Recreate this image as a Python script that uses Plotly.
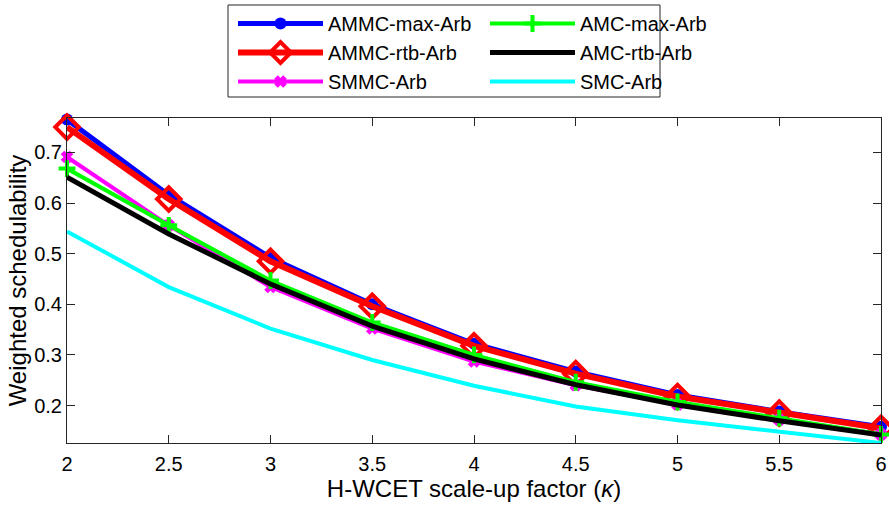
import plotly.graph_objects as go

kappa = [2, 2.5, 3, 3.5, 4, 4.5, 5, 5.5, 6]
ammc_max = [0.765, 0.616, 0.492, 0.400, 0.322, 0.267, 0.221, 0.188, 0.158]
ammc_rtb = [0.750, 0.608, 0.485, 0.396, 0.318, 0.263, 0.218, 0.185, 0.155]
smmc = [0.691, 0.556, 0.434, 0.352, 0.287, 0.240, 0.202, 0.172, 0.143]
amc_max = [0.668, 0.556, 0.447, 0.364, 0.300, 0.246, 0.207, 0.175, 0.143]
amc_rtb = [0.651, 0.539, 0.440, 0.357, 0.292, 0.241, 0.201, 0.170, 0.142]
smc = [0.544, 0.434, 0.352, 0.290, 0.239, 0.198, 0.171, 0.149, 0.126]

FONT = "Liberation Sans, Arial, Helvetica, sans-serif"
W, H = 889, 512
ML, MR, MT, MB = 67, 8, 118, 69
PW, PH = W - ML - MR, H - MT - MB


def px_x(px):
    return (px - ML) / PW


def px_y(py):
    return (H - MB - py) / PH


fig = go.Figure()


def add(name, y, color, width, rank, legend, marker=None):
    kw = dict(x=kappa, y=y, name=name, legendrank=rank, legend=legend,
              cliponaxis=False, line=dict(color=color, width=width))
    if marker:
        kw["mode"] = "lines+markers"
        kw["marker"] = marker
    else:
        kw["mode"] = "lines"
    fig.add_trace(go.Scatter(**kw))


add("AMMC-max-Arb", ammc_max, "#0000FF", 5, 1, "legend",
    dict(symbol="circle", size=12, color="#0000FF"))
add("AMMC-rtb-Arb", ammc_rtb, "#FF0000", 6, 2, "legend",
    dict(symbol="diamond-open", size=18, color="#FF0000", line=dict(width=4, color="#FF0000")))
add("SMMC-Arb", smmc, "#FF00FF", 4, 3, "legend",
    dict(symbol="x-thin", size=9, color="#FF00FF", line=dict(width=5, color="#FF00FF")))
add("AMC-max-Arb", amc_max, "#00FF00", 4, 1, "legend2",
    dict(symbol="cross-thin", size=12, color="#00FF00", line=dict(width=4, color="#00FF00")))
add("AMC-rtb-Arb", amc_rtb, "#000000", 5, 2, "legend2")
add("SMC-Arb", smc, "#00FFFF", 4, 3, "legend2")

axis_common = dict(
    showline=True, linecolor="#262626", linewidth=1, mirror="ticks",
    ticks="inside", ticklen=8, tickwidth=1, tickcolor="#262626",
    showgrid=False, zeroline=False,
    tickfont=dict(family=FONT, size=20, color="#000000"),
)

legend_common = dict(
    orientation="v", xanchor="left", yanchor="top", y=px_y(4),
    itemwidth=85, tracegroupgap=0, borderwidth=0, bgcolor="rgba(0,0,0,0)",
    font=dict(family=FONT, size=20, color="#000000"),
)

fig.update_layout(
    width=W, height=H,
    margin=dict(l=ML, r=MR, t=MT, b=MB, autoexpand=False),
    paper_bgcolor="white", plot_bgcolor="white",
    font=dict(family=FONT, color="#000000"),
    xaxis=dict(range=[2, 6], dtick=0.5, tick0=2, ticklabelstandoff=3,
               title=dict(text="H-WCET scale-up factor (<i>κ</i>)", font=dict(family=FONT, size=24), standoff=5),
               **axis_common),
    yaxis=dict(range=[0.126, 0.768], dtick=0.1, tick0=0.2, tickformat=".1f",
               title=dict(text="Weighted schedulability", font=dict(family=FONT, size=24), standoff=0),
               **axis_common),
    legend=dict(x=px_x(233), **legend_common),
    legend2=dict(x=px_x(485), **legend_common),
    shapes=[dict(type="rect", xref="paper", yref="paper",
                 x0=px_x(228), x1=px_x(660), y0=px_y(97), y1=px_y(5),
                 line=dict(color="#262626", width=1), fillcolor="rgba(0,0,0,0)", layer="above")],
    showlegend=True,
)

fig.write_html("out.html")
